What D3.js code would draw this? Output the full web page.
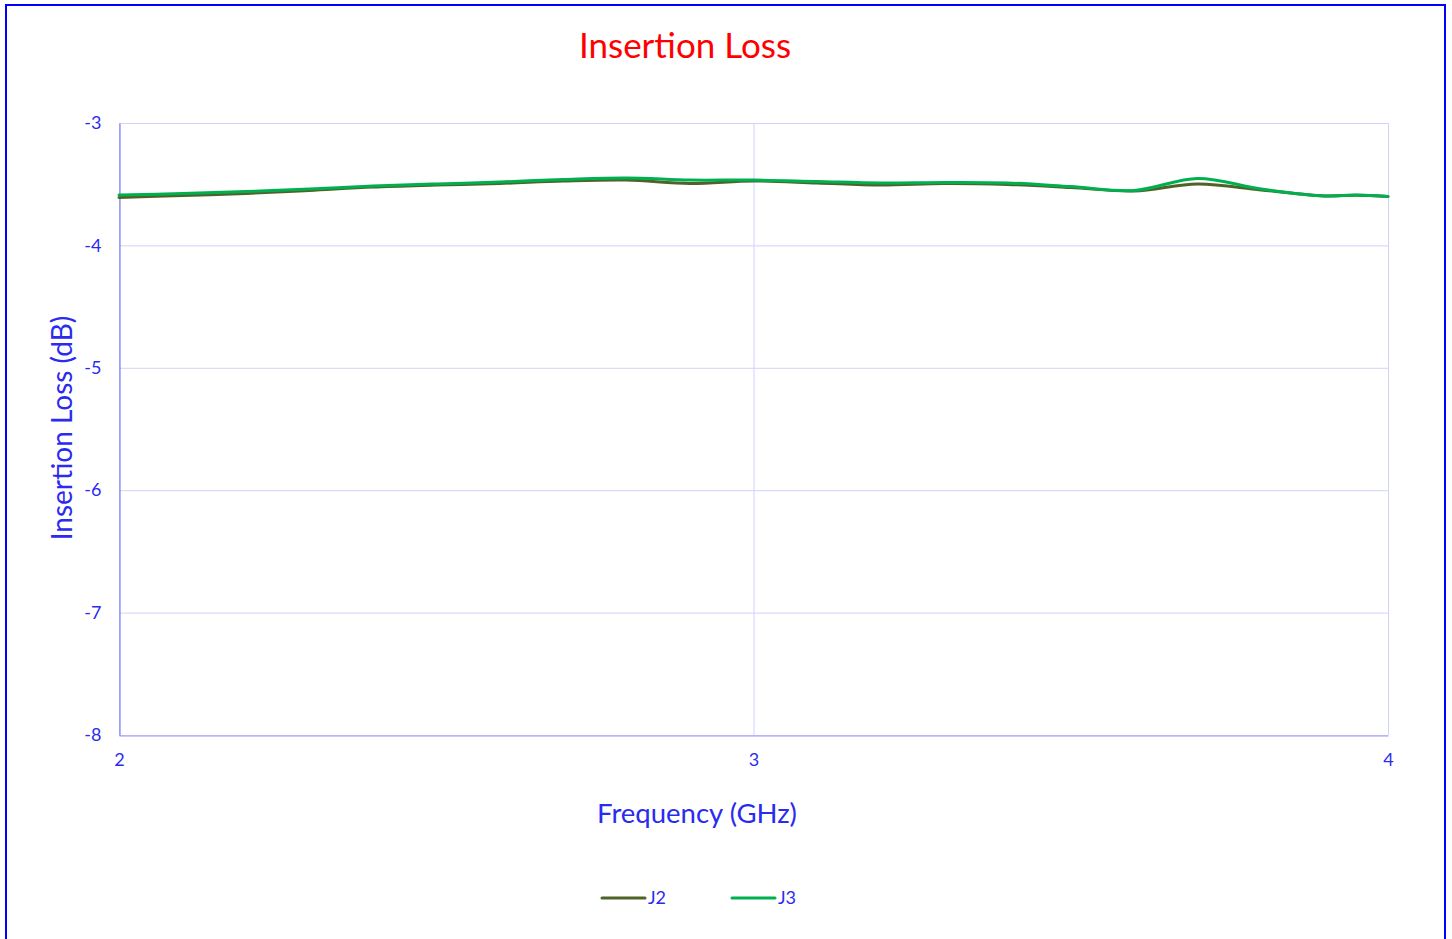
<!DOCTYPE html>
<html><head><meta charset="utf-8">
<script src="https://cdn.jsdelivr.net/npm/d3@7"></script>
<style>html,body{margin:0;padding:0;background:#fff;}svg{display:block;}</style>
</head><body>
<script>
const freqs = [2.0,2.1,2.2,2.3,2.4,2.5,2.6,2.7,2.8,2.9,3.0,3.1,3.2,3.3,3.4,3.5,3.6,3.7,3.8,3.9,3.95,4.0];
const j2 = [-3.609,-3.592,-3.576,-3.551,-3.523,-3.507,-3.494,-3.474,-3.466,-3.494,-3.474,-3.490,-3.507,-3.494,-3.502,-3.527,-3.556,-3.498,-3.547,-3.596,-3.590,-3.600];
const j3 = [-3.588,-3.576,-3.560,-3.539,-3.515,-3.498,-3.482,-3.462,-3.449,-3.466,-3.466,-3.478,-3.490,-3.486,-3.490,-3.519,-3.551,-3.453,-3.539,-3.596,-3.588,-3.600];
const seriesNames = ["J2","J3"];
const seriesColors = ["#4F6228","#00B050"];
const xTicks = [2,3,4];
const yTicks = [-3,-4,-5,-6,-7,-8];

const W=1452,H=939;
const svg=d3.select("body").append("svg").attr("width",W).attr("height",H);
const font="Lato, 'Open Sans', sans-serif";
const blue="#2B2BF0";

svg.append("rect").attr("x",6).attr("y",5).attr("width",1439).attr("height",H+10)
  .attr("fill","none").attr("stroke","#0000FF").attr("stroke-width",2);

const x=d3.scaleLinear().domain([2,4]).range([119,1388]);
const y=d3.scaleLinear().domain([-8,-3]).range([735,123]);

// grid
svg.append("g").selectAll("line").data(yTicks).join("line")
  .attr("x1",x(2)).attr("x2",x(4)).attr("y1",d=>y(d)+0.5).attr("y2",d=>y(d)+0.5)
  .attr("stroke","#D2D2FA").attr("stroke-width",1);
svg.append("g").selectAll("line").data(xTicks).join("line")
  .attr("y1",y(-3)).attr("y2",y(-8)).attr("x1",d=>x(d)+0.5).attr("x2",d=>x(d)+0.5)
  .attr("stroke","#D2D2FA").attr("stroke-width",1);

// axes
const xa=svg.append("g").attr("transform",`translate(0,${y(-8)+0.5})`)
  .call(d3.axisBottom(x).tickValues(xTicks).tickSize(0).tickPadding(18).tickFormat(d3.format("d")));
xa.select(".domain").attr("stroke","#9A9AF5");
const ya=svg.append("g").attr("transform",`translate(${x(2)+0.5},0)`)
  .call(d3.axisLeft(y).tickValues(yTicks).tickSize(0).tickPadding(18).tickFormat(d=>String(d).replace("\u2212","-")));
ya.select(".domain").attr("stroke","#6B6BF5");
svg.selectAll(".tick text").attr("fill",blue).style("font-family",font).style("font-size","18px");

// lines
const line=d3.line().x(d=>x(d[0])).y(d=>y(d[1])).curve(d3.curveCatmullRom.alpha(0.5));
[j2,j3].forEach((vals,i)=>{
  svg.append("path").datum(freqs.map((f,k)=>[f,vals[k]]))
    .attr("d",line).attr("fill","none").attr("stroke",seriesColors[i])
    .attr("stroke-width",3).attr("stroke-linecap","round").attr("stroke-linejoin","round");
});

// titles
svg.append("text").attr("x",685).attr("y",58).attr("text-anchor","middle")
  .style("font-family",font).style("font-size","35px").attr("fill","#FF0000").text("Insertion Loss");
svg.append("text").attr("x",697).attr("y",823).attr("text-anchor","middle")
  .style("font-family",font).style("font-size","27.5px").attr("fill",blue).text("Frequency (GHz)");
svg.append("text").attr("transform",`translate(72,428) rotate(-90)`).attr("text-anchor","middle")
  .style("font-family",font).style("font-size","28px").attr("fill",blue).text("Insertion Loss (dB)");

// legend
const lg=svg.append("g");
const lx=[602,732];
seriesNames.forEach((n,i)=>{
  lg.append("line").attr("x1",lx[i]).attr("x2",lx[i]+43).attr("y1",898).attr("y2",898)
    .attr("stroke",seriesColors[i]).attr("stroke-width",3).attr("stroke-linecap","round");
  lg.append("text").attr("x",lx[i]+46).attr("y",904).style("font-family",font).style("font-size","18px")
    .attr("fill",blue).text(n);
});
</script>
</body></html>
